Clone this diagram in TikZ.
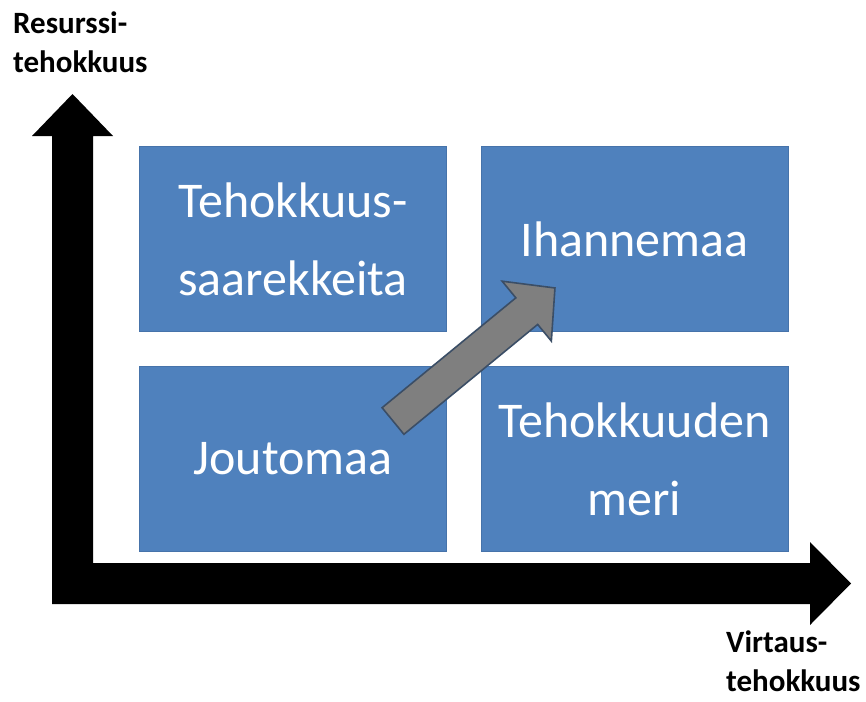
\documentclass[tikz,border=0pt]{standalone}
\usepackage{fontspec}
\setmainfont{Carlito}
\definecolor{boxblue}{HTML}{4F81BD}
\definecolor{boxedge}{HTML}{4673AA}
\definecolor{arrowgray}{HTML}{7F7F7F}
\definecolor{arrowedge}{HTML}{3B4E66}
\tikzset{
  quad/.style={draw=boxedge, line width=0.8pt, fill=boxblue, minimum width=307pt, minimum height=185pt,
    inner sep=0pt, align=center, text=white, font=\fontsize{50}{78}\selectfont},
  axislabel/.style={inner sep=0pt, align=left, font=\fontsize{31}{39}\selectfont\bfseries},
  axisarrow/.style={fill=black, draw=none}
}
\begin{document}
\begin{tikzpicture}[x=1pt, y=-1pt]
\useasboundingbox (0,0) rectangle (866,701);
% axes
\fill[axisarrow] (52,604) -- (52,136) -- (32,136) -- (72.5,94) -- (113,136) -- (93,136) -- (93,563)
  -- (810,563) -- (810,542) -- (851,583.5) -- (810,625) -- (810,604) -- cycle;
% quadrant boxes
\node[quad] (tl) at (293,239) {Tehokkuus-\\saarekkeita};
\node[quad] (tr) at (634.5,239) {Ihannemaa};
\node[quad] (bl) at (293,459) {Joutomaa};
\node[quad] (br) at (634.5,459) {Tehokkuuden\\meri};
% gray arrow
\begin{scope}[shift={(393,421)}, rotate=39.4]
\filldraw[fill=arrowgray, draw=arrowedge, line width=1.6pt, line join=miter]
  (0,-17.2) -- (173.1,-17.2) -- (173.1,-38.75) -- (209.6,0) -- (173.1,38.75) -- (173.1,17.2) -- (0,17.2) -- cycle;
\end{scope}
% axis labels
\node[axislabel, anchor=north west] (ylab) at (13,12) {Resurssi-\\tehokkuus};
\node[axislabel, anchor=north west] (xlab) at (726,631) {Virtaus-\\tehokkuus};
\end{tikzpicture}
\end{document}
